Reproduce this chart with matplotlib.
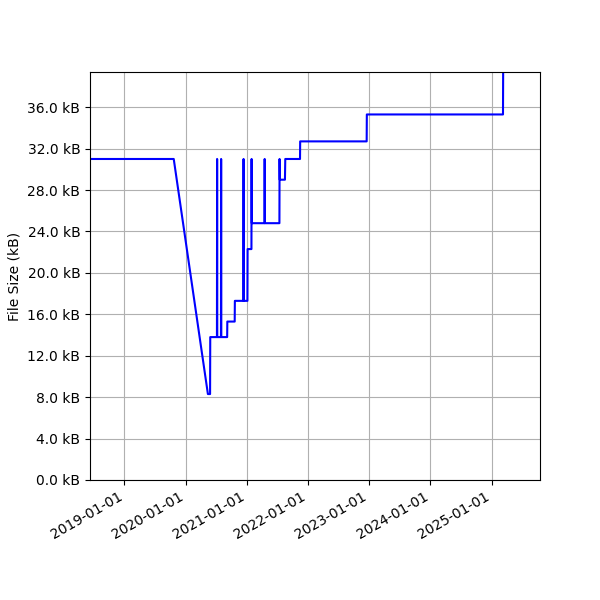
import matplotlib
matplotlib.use("Agg")
import matplotlib.pyplot as plt
import matplotlib.dates as mdates
from matplotlib.ticker import MultipleLocator, FuncFormatter
import pandas as pd

dates = [
    "2018-06-09", "2019-10-22", "2020-05-13", "2020-05-26", "2020-05-27",
    "2020-07-06", "2020-07-07", "2020-07-08", "2020-07-30", "2020-07-31",
    "2020-08-01", "2020-09-05", "2020-09-06", "2020-10-20", "2020-10-21",
    "2020-12-11", "2020-12-12", "2020-12-13", "2021-01-04", "2021-01-05",
    "2021-01-28", "2021-01-29", "2021-01-30", "2021-04-16", "2021-04-17",
    "2021-04-18", "2021-07-14", "2021-07-15", "2021-07-16", "2021-08-16",
    "2021-08-18", "2021-11-14", "2021-11-15", "2022-12-17", "2022-12-18",
    "2025-03-10", "2025-03-11",
]
sizes_kb = [
    31.0, 31.0, 8.3, 8.3, 13.8,
    13.8, 31.0, 13.8, 13.8, 31.0,
    13.8, 13.8, 15.3, 15.3, 17.3,
    17.3, 31.0, 17.3, 17.3, 22.3,
    22.3, 31.0, 24.8, 24.8, 31.0,
    24.8, 24.8, 31.0, 29.0, 29.0,
    31.0, 31.0, 32.7, 32.7, 35.3,
    35.3, 39.4,
]
x_end = "2025-10-17"

x = pd.to_datetime(dates)

fig = plt.figure(figsize=(6, 6), dpi=100)
ax = fig.add_subplot(111)
fig.subplots_adjust(left=0.15, right=0.9, top=0.88, bottom=0.2)

ax.plot(x, sizes_kb, color="blue", linewidth=1.5)

ax.set_xlim(x[0], pd.Timestamp(x_end))
ax.set_ylim(0, max(sizes_kb))
ax.yaxis.set_major_locator(MultipleLocator(4))
ax.yaxis.set_major_formatter(FuncFormatter(lambda v, p: f"{v:.1f} kB"))
ax.xaxis.set_major_locator(mdates.YearLocator())
ax.xaxis.set_major_formatter(mdates.DateFormatter("%Y-%m-%d"))
ax.set_ylabel("File Size (kB)")
ax.grid(True)
for lbl in ax.get_xticklabels():
    lbl.set_rotation(30)
    lbl.set_ha("right")

fig.savefig("out.png", dpi=100)
